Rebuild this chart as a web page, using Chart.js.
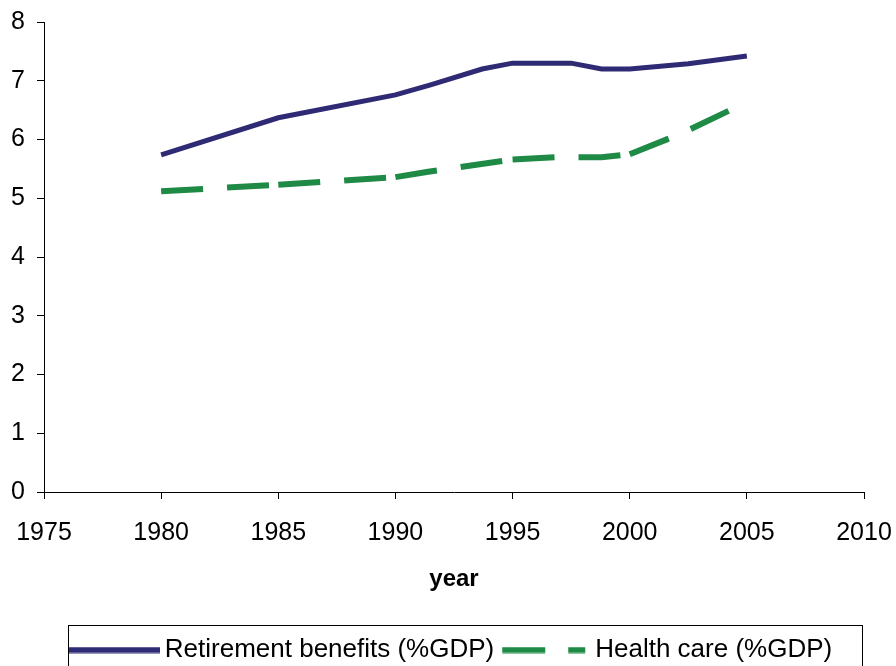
<!DOCTYPE html>
<html>
<head>
<meta charset="utf-8">
<script src="https://cdn.jsdelivr.net/npm/chart.js@4"></script>
<style>
  html, body { margin: 0; padding: 0; background: #fff; overflow: hidden; }
  #wrap { width: 896px; height: 666px; overflow: hidden; }
</style>
</head>
<body>
<div id="wrap"><canvas id="chart" width="896" height="673"></canvas></div>
<script>
// values
const retireYears = [1980, 1985, 1990, 1991.5, 1993.7, 1995, 1997.5, 1998.8, 2000, 2002.5, 2005];
const retireValues = [5.74, 6.37, 6.76, 6.93, 7.2, 7.3, 7.3, 7.2, 7.2, 7.29, 7.42];
const healthYears = [1980, 1985, 1990, 1991.4, 1995, 1996.8, 1998.8, 2000, 2002.2, 2004.6];
const healthValues = [5.12, 5.23, 5.36, 5.45, 5.66, 5.7, 5.7, 5.75, 6.1, 6.56];
const xTicks = [1975, 1980, 1985, 1990, 1995, 2000, 2005, 2010];
const yTicks = [0, 1, 2, 3, 4, 5, 6, 7, 8];

const FONT = 'Arial, "Liberation Sans", sans-serif';
const NAVY = '#2f2a74';
const GREEN = '#1f8a45';
const PLOT_BOTTOM = 492;

// points where the original's dash pattern starts over
const dashRestarts = [0, 1, 2, 4, 7];

function toPoints(xs, ys) {
  return xs.map((x, i) => ({ x: x, y: ys[i] }));
}

function dashGroup(i) {
  return dashRestarts.filter(r => r <= i).length;
}

// legend samples drawn as small images
function sample(color, dash, start) {
  const c = document.createElement('canvas');
  c.width = 92; c.height = 7;
  const g = c.getContext('2d');
  g.strokeStyle = color;
  g.lineWidth = 6;
  g.setLineDash(dash);
  g.beginPath();
  g.moveTo(start, 3.5); g.lineTo(92, 3.5);
  g.stroke();
  return c;
}

// boxed legend, nudged right like the original
const legendBox = {
  id: 'legendBox',
  afterLayout(chart) {
    chart.legend.left += 22;
    chart.legend.right += 22;
  },
  afterDraw(chart) {
    const ctx = chart.ctx;
    ctx.save();
    ctx.strokeStyle = '#000';
    ctx.lineWidth = 1;
    ctx.strokeRect(68.5, 625.5, 794, 60);
    ctx.restore();
  }
};

new Chart(document.getElementById('chart'), {
  type: 'line',
  data: {
    datasets: [
      {
        label: 'Retirement benefits (%GDP)',
        data: toPoints(retireYears, retireValues),
        borderColor: NAVY,
        borderWidth: 5,
        pointRadius: 0,
        tension: 0,
        pointStyle: sample(NAVY, [], 0)
      },
      {
        label: 'Health care (%GDP)',
        data: toPoints(healthYears, healthValues),
        borderColor: GREEN,
        borderWidth: 6,
        borderDash: [42, 24],
        pointRadius: 0,
        tension: 0,
        segment: { borderDashOffset: ctx => (dashGroup(ctx.p0DataIndex) % 2 ? 0.001 : 0) },
        pointStyle: sample(GREEN, [43, 23, 17, 100], 4)
      }
    ]
  },
  options: {
    responsive: false,
    animation: false,
    layout: { padding: { top: 22, right: 32, left: 0, bottom: 0 } },
    plugins: {
      tooltip: { enabled: false },
      legend: {
        position: 'bottom',
        labels: {
          usePointStyle: true,
          pointStyleWidth: 76,
          boxHeight: 7,
          padding: 12,
          color: '#000',
          font: { family: FONT, size: 26 }
        }
      }
    },
    scales: {
      x: {
        type: 'linear',
        min: 1975,
        max: 2010,
        afterBuildTicks: s => { s.ticks = xTicks.map(v => ({ value: v })); },
        afterFit: s => {
          const lg = s.chart.legend ? s.chart.legend.height : 0;
          s.height = s.chart.height - PLOT_BOTTOM - lg;
          s.paddingLeft = 0;
          s.paddingRight = 0;
        },
        grid: { drawOnChartArea: false, tickLength: 7, color: '#000' },
        border: { color: '#000', width: 1 },
        ticks: { color: '#000', font: { family: FONT, size: 25 }, padding: 19, maxRotation: 0, callback: v => String(v) },
        title: { display: true, text: 'year', color: '#000', font: { family: FONT, size: 24, weight: 'bold' }, padding: { top: 4, bottom: 31 } }
      },
      y: {
        min: 0,
        max: 8,
        afterBuildTicks: s => { s.ticks = yTicks.map(v => ({ value: v })); },
        afterFit: s => {
          s.width = 44;
          s.paddingTop = 0;
          s.paddingBottom = 0;
        },
        grid: { drawOnChartArea: false, tickLength: 7, color: '#000' },
        border: { color: '#000', width: 1 },
        ticks: { color: '#000', font: { family: FONT, size: 25 }, padding: 12 }
      }
    }
  },
  plugins: [legendBox]
});
</script>
</body>
</html>
